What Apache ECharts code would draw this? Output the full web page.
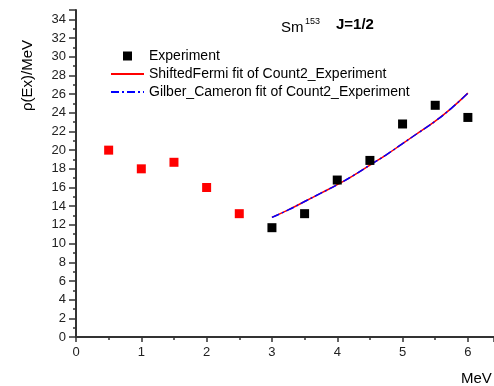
<!DOCTYPE html>
<html>
<head>
<meta charset="utf-8">
<script src="https://cdn.jsdelivr.net/npm/echarts@6/dist/echarts.min.js"></script>
<style>html,body{margin:0;padding:0;background:#fff}#c{width:494px;height:386px}</style>
</head>
<body>
<div id="c"></div>
<script>
var expRedX = [0.5, 1.0, 1.5, 2.0, 2.5];
var expRedY = [20.0, 18.0, 18.7, 16.0, 13.2];
var expBlackX = [3.0, 3.5, 4.0, 4.5, 5.0, 5.5, 6.0];
var expBlackY = [11.7, 13.2, 16.8, 18.9, 22.8, 24.8, 23.5];
var fitX = [3.0, 3.25, 3.5, 3.75, 4.0, 4.25, 4.5, 4.75, 5.0, 5.25, 5.5, 5.75, 6.0];
var shiftedFermiY = [12.8, 13.6, 14.5, 15.4, 16.3, 17.3, 18.4, 19.5, 20.7, 21.9, 23.1, 24.5, 26.1];
var gilberCameronY = [12.8, 13.6, 14.5, 15.4, 16.3, 17.3, 18.4, 19.5, 20.7, 21.9, 23.1, 24.5, 26.1];
var seriesNames = ['Experiment', 'ShiftedFermi fit of Count2_Experiment', 'Gilber_Cameron fit of Count2_Experiment'];

function pairs(xs, ys) { return xs.map(function (x, i) { return [x, ys[i]]; }); }

var expData = expRedX.map(function (x, i) {
  return { value: [x, expRedY[i]], itemStyle: { color: '#ff0000' } };
}).concat(pairs(expBlackX, expBlackY));

var FONT = 'Liberation Sans, Arial, sans-serif';
var axisColor = '#333';
var chart = echarts.init(document.getElementById('c'));
chart.setOption({
  animation: false,
  backgroundColor: '#fff',
  grid: { left: 76, right: 0, top: 10, bottom: 49 },
  legend: {
    orient: 'vertical', left: 110, top: 49, padding: 0, itemWidth: 33, itemHeight: 9, itemGap: 4,
    textStyle: { fontFamily: FONT, fontSize: 14, color: '#000' },
    data: [
      { name: seriesNames[0], icon: 'path://M0,0h10v10h-10z' },
      { name: seriesNames[1], itemStyle: { opacity: 0 } },
      { name: seriesNames[2], itemStyle: { opacity: 0 } }
    ]
  },
  xAxis: {
    type: 'value', min: 0, max: 6.4, interval: 1,
    axisLine: { lineStyle: { color: axisColor, width: 2 } },
    axisTick: { length: 5, lineStyle: { color: axisColor, width: 1.5 } },
    minorTick: { show: true, splitNumber: 2, length: 3, lineStyle: { color: axisColor, width: 1.5 } },
    axisLabel: { showMaxLabel: false, fontFamily: FONT, fontSize: 13, color: '#222', margin: 9 },
    splitLine: { show: false }
  },
  yAxis: {
    type: 'value', min: 0, max: 35, interval: 2,
    axisLine: { show: true, lineStyle: { color: axisColor, width: 2 } },
    axisTick: { show: true, length: 7, lineStyle: { color: axisColor, width: 1.5 } },
    minorTick: { show: true, splitNumber: 2, length: 3, lineStyle: { color: axisColor, width: 1.5 } },
    axisLabel: { showMaxLabel: false, fontFamily: FONT, fontSize: 13, color: '#222', margin: 10 },
    splitLine: { show: false }
  },
  graphic: [
    { type: 'text', left: 281, top: 20, style: { text: 'Sm', font: '15px ' + FONT, fill: '#000' } },
    { type: 'text', left: 305, top: 17, style: { text: '153', font: '9px ' + FONT, fill: '#000' } },
    { type: 'text', left: 336, top: 17, style: { text: 'J=1/2', font: 'bold 15px ' + FONT, fill: '#000' } },
    { type: 'text', left: 461, top: 371, style: { text: 'MeV', font: '15px ' + FONT, fill: '#000' } },
    { type: 'text', x: 20, y: 111, rotation: Math.PI / 2, style: { text: 'ρ(Ex)/MeV', font: '15px ' + FONT, fill: '#000', align: 'left', verticalAlign: 'top' } }
  ],
  series: [
    {
      name: seriesNames[0], type: 'scatter', symbol: 'rect', symbolSize: 9,
      itemStyle: { color: '#000', opacity: 1 }, data: expData, z: 5
    },
    {
      name: seriesNames[1], type: 'line', smooth: true, symbol: 'none',
      lineStyle: { color: '#ff0000', width: 1.5, type: 'solid' },
      itemStyle: { color: '#ff0000' },
      data: pairs(fitX, shiftedFermiY), z: 3
    },
    {
      name: seriesNames[2], type: 'line', smooth: true, symbol: 'none',
      lineStyle: { color: '#0000ff', width: 1.5, type: [8, 3, 2, 3] },
      itemStyle: { color: '#0000ff' },
      data: pairs(fitX, gilberCameronY), z: 4
    }
  ]
});
</script>
</body>
</html>
